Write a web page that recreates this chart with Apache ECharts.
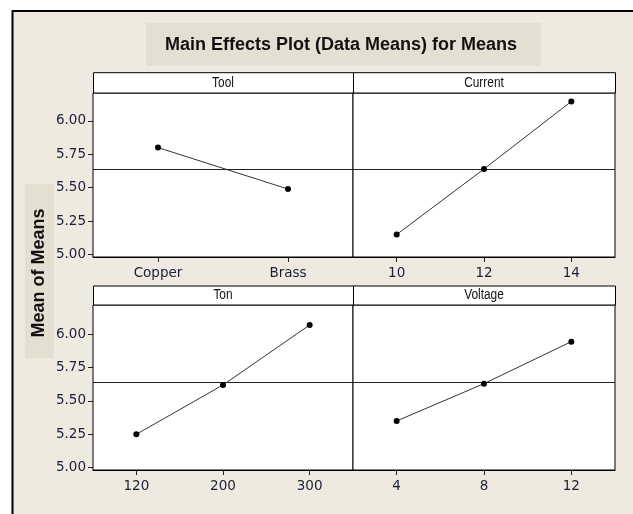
<!DOCTYPE html>
<html>
<head>
<meta charset="utf-8">
<script src="https://cdn.jsdelivr.net/npm/echarts@6.0.0/dist/echarts.min.js"></script>
<style>
html,body{margin:0;padding:0;background:#fff;}
#chart{width:633px;height:514px;}
</style>
</head>
<body>
<div id="chart"></div>
<script>
// ---- data ----
var factorNames = ['Tool', 'Current', 'Ton', 'Voltage'];
var toolCats = ['Copper', 'Brass'];
var toolMeans = [5.80, 5.49];
var currentCats = ['10', '12', '14'];
var currentMeans = [5.15, 5.64, 6.145];
var tonCats = ['120', '200', '300'];
var tonMeans = [5.25, 5.62, 6.07];
var voltageCats = ['4', '8', '12'];
var voltageMeans = [5.35, 5.63, 5.945];
var yTicks = [5.00, 5.25, 5.50, 5.75, 6.00];
var titleText = 'Main Effects Plot (Data Means) for Means';
var yAxisTitle = 'Mean of Means';

var grandMean = toolMeans.reduce(function(a,b){return a+b;},0) / toolMeans.length;

// ---- layout ----
var L = 93, M = 353, R = 615;
var panels = [
  {x: L, w: M - L, top: 93, h: 164, stripTop: 72.7, max: 6.208},
  {x: M, w: R - M, top: 93, h: 164, stripTop: 72.7, max: 6.208},
  {x: L, w: M - L, top: 305, h: 165, stripTop: 286, max: 6.22},
  {x: M, w: R - M, top: 305, h: 165, stripTop: 286, max: 6.22}
];
var cats = [toolCats, currentCats, tonCats, voltageCats];
var means = [toolMeans, currentMeans, tonMeans, voltageMeans];

var labelColor = '#1a2038';
var numFont = 'DejaVu Sans';

var grids = [], xAxes = [], yAxes = [], series = [], graphics = [];

// frame + background
graphics.push({type: 'rect', z: 0, shape: {x: 12.5, y: 11, width: 640, height: 520},
  style: {fill: '#EEEAE0', stroke: '#000', lineWidth: 2}});
// title box
graphics.push({type: 'rect', z: 1, shape: {x: 146, y: 23, width: 395, height: 43},
  style: {fill: '#E3E0D3', stroke: null}});
graphics.push({type: 'text', z: 2, x: 341, y: 45,
  style: {text: titleText, font: 'bold 18px "Liberation Sans", Arial, sans-serif',
    fill: '#111', textAlign: 'center', textVerticalAlign: 'middle'}});
// y title box
graphics.push({type: 'rect', z: 1, shape: {x: 25, y: 184, width: 29, height: 174},
  style: {fill: '#E3E0D1', stroke: null}});
graphics.push({type: 'text', z: 2, x: 39, y: 273, rotation: Math.PI / 2,
  style: {text: yAxisTitle, font: 'bold 18px "Liberation Sans", Arial, sans-serif',
    fill: '#111', textAlign: 'center', textVerticalAlign: 'middle'}});

panels.forEach(function(p, i) {
  var left = (i % 2 === 0);
  grids.push({left: p.x, top: p.top, width: p.w, height: p.h, show: true,
    backgroundColor: '#fff', borderColor: '#000', borderWidth: 1, z: 3});
  xAxes.push({type: 'category', gridIndex: i, data: cats[i], boundaryGap: true,
    axisLine: {show: true, lineStyle: {color: '#000', width: 1}},
    axisTick: {show: true, alignWithLabel: true, length: 5, lineStyle: {color: '#222'}},
    axisLabel: {color: labelColor, fontFamily: numFont, fontSize: 13.5, margin: 9,
      interval: 0},
    splitLine: {show: false}});
  yAxes.push({type: 'value', gridIndex: i, min: 4.982, max: p.max,
    axisLine: {show: true, lineStyle: {color: '#000', width: 1}},
    axisTick: {show: left, length: 5, customValues: yTicks, lineStyle: {color: '#222'}},
    axisLabel: {show: left, customValues: yTicks, color: labelColor, fontFamily: numFont,
      fontSize: 13.5, margin: 7, formatter: function(v) { return v.toFixed(2); }},
    splitLine: {show: false}});
  series.push({type: 'line', xAxisIndex: i, yAxisIndex: i, data: means[i],
    symbol: 'circle', symbolSize: 6, itemStyle: {color: '#000'},
    lineStyle: {color: '#333', width: 1}, z: 5, animation: false,
    markLine: {silent: true, symbol: 'none', animation: false,
      lineStyle: {color: '#222', width: 1, type: 'solid'}, label: {show: false},
      data: [{yAxis: grandMean}]}});
  // strip
  graphics.push({type: 'rect', z: 4, shape: {x: p.x + 0.5, y: p.stripTop, width: p.w, height: p.top - p.stripTop},
    style: {fill: '#fff', stroke: '#000', lineWidth: 1}});
  var cx = p.x + p.w / 2;
  graphics.push({type: 'text', z: 5, x: cx, y: (p.stripTop + p.top) / 2,
    scaleX: 0.85, originX: 0, originY: 0,
    style: {text: factorNames[i], font: '14px "Liberation Sans", sans-serif',
      fill: '#111', textAlign: 'center', textVerticalAlign: 'middle'}});
});

var chart = echarts.init(document.getElementById('chart'), null, {renderer: 'canvas'});
chart.setOption({
  animation: false,
  backgroundColor: '#fff',
  grid: grids,
  xAxis: xAxes,
  yAxis: yAxes,
  series: series,
  graphic: {elements: graphics}
});
</script>
</body>
</html>
